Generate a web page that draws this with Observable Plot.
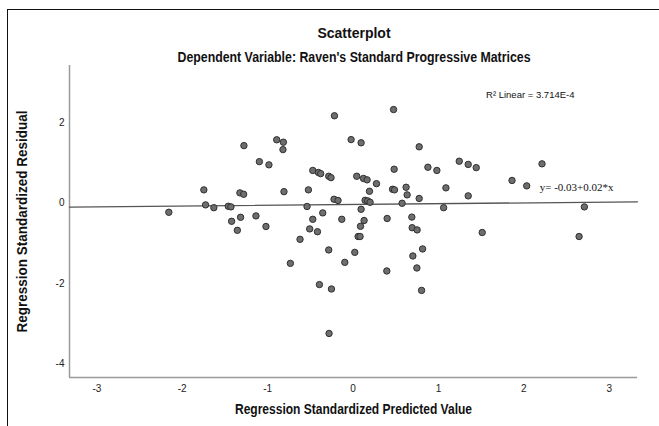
<!DOCTYPE html>
<html>
<head>
<meta charset="utf-8">
<script src="https://cdn.jsdelivr.net/npm/d3@7"></script>
<script src="https://cdn.jsdelivr.net/npm/@observablehq/plot@0.6"></script>
<style>
  html, body { margin: 0; padding: 0; background: #fff; overflow: hidden; }
  #wrap { position: relative; width: 659px; height: 426px; overflow: hidden; font-family: "Liberation Sans", Arial, sans-serif; }
  #border { position: absolute; left: 7px; top: 9px; width: 700px; height: 500px; border-left: 1.5px solid #111; border-top: 1.5px solid #111; }
  #head { position: relative; height: 60px; }
  .t { position: absolute; left: 354px; top: 0; white-space: nowrap; font-weight: bold; font-size: 14px; color: #111; }
  #chart { position: relative; }
</style>
</head>
<body>
<div id="wrap">
  <div id="border"></div>
  <div id="head">
    <div class="t" id="t1" style="top:33px">Scatterplot</div>
    <div class="t" id="t2" style="top:57px">Dependent Variable: Raven's Standard Progressive Matrices</div>
  </div>
  <div id="chart"></div>
</div>
<script>
// ---- data ----
const predicted = [
  0.474, -0.218, -0.894, -0.816, -0.821, -0.023, 0.094, 0.774, -1.278, -1.097,
  -0.985, -0.472, -0.406, -0.379, -0.285, -0.258, 0.481, 0.876, 0.981, 0.043,
  0.122, 0.164, 0.274, -0.809, -0.523, 0.192, 0.462, 0.485, 0.621, 0.633,
  1.087, -0.223, -0.176, 0.141, 0.172, 0.199, 0.774, 0.574, -0.539, 0.094,
  1.060, -1.137, -0.472, -0.355, -0.132, 0.129, 0.399, 0.688, -1.020, -0.508,
  -0.417, 0.087, 0.692, 0.750, 0.059, 0.082, -0.621, -0.285, 0.020, 0.814,
  0.700, -0.734, -0.097, 0.395, 0.747, -0.394, -0.253, 0.802, -0.281, -1.747,
  -1.325, -1.281, -1.727, -1.630, -1.461, -1.430, -2.157, -1.317, -1.422, -1.355,
  1.243, 1.348, 1.442, 2.212, 1.861, 2.033, 1.348, 2.708, 1.512, 2.646
];
const residual = [
  2.34, 2.185, 1.585, 1.525, 1.34, 1.59, 1.51, 1.41, 1.44, 1.04,
  0.96, 0.82, 0.77, 0.74, 0.675, 0.64, 0.85, 0.90, 0.82, 0.675,
  0.62, 0.585, 0.49, 0.29, 0.335, 0.30, 0.35, 0.335, 0.40, 0.21,
  0.385, 0.10, 0.07, 0.075, 0.06, 0.025, 0.12, 0.0, -0.08, -0.15,
  -0.11, -0.315, -0.40, -0.24, -0.40, -0.43, -0.38, -0.345, -0.58, -0.64,
  -0.71, -0.575, -0.61, -0.665, -0.83, -0.83, -0.90, -1.165, -1.225, -1.14,
  -1.315, -1.50, -1.475, -1.69, -1.615, -2.03, -2.14, -2.175, -3.25, 0.335,
  0.26, 0.225, -0.04, -0.11, -0.075, -0.09, -0.225, -0.35, -0.45, -0.675,
  1.05, 0.97, 0.89, 0.985, 0.57, 0.435, 0.185, -0.09, -0.73, -0.83
];
const xTicks = [-3, -2, -1, 0, 1, 2, 3];
const yTicks = [-4, -2, 0, 2];
const xDomain = [-3.32, 3.33];
const yDomain = [-4.35, 3.44];
const fitIntercept = -0.03;
const fitSlope = 0.02;
const r2Label = "R\u00B2 Linear = 3.714E-4";
const eqLabel = "y= -0.03+0.02*x";
const xTitle = "Regression Standardized Predicted Value";
const yTitle = "Regression Standardized Residual";

// ---- derived tables ----
const points = predicted.map((p, i) => ({x: p, y: residual[i]}));
const fitLine = xDomain.map(x => ({x, y: fitIntercept + fitSlope * x}));

const chart = Plot.plot({
  width: 659,
  height: 366,
  marginTop: 5,
  marginBottom: 49,
  marginLeft: 69,
  marginRight: 22,
  style: {fontFamily: "'Liberation Sans', Arial, sans-serif", fontSize: "10px", color: "#222", background: "transparent"},
  x: {domain: xDomain, label: null},
  y: {domain: yDomain, label: null},
  marks: [
    Plot.axisX({ticks: xTicks, tickSize: 0, tickPadding: 7, fontSize: 10, label: null, tickFormat: d => String(d)}),
    Plot.axisY({ticks: yTicks, tickSize: 0, tickPadding: 5, fontSize: 10, label: null, tickFormat: d => String(d)}),
    Plot.ruleX([xDomain[0]], {stroke: "#9a9a9a", strokeWidth: 1.5}),
    Plot.ruleY([yDomain[0]], {stroke: "#9a9a9a", strokeWidth: 1.5}),
    Plot.line(fitLine, {x: "x", y: "y", stroke: "#555", strokeWidth: 1.3}),
    Plot.dot(points, {x: "x", y: "y", r: 3.2, fill: "#6e6e6e", stroke: "#303030", strokeWidth: 1, fillOpacity: 1}),
    Plot.text([r2Label], {frameAnchor: "top-right", textAnchor: "end", dx: -63, dy: 26, fontSize: 9.5, fill: "#111"}),
    Plot.text([eqLabel], {frameAnchor: "right", textAnchor: "end", dx: -24, dy: -34, fontSize: 11, fill: "#111", fontFamily: "'Liberation Serif', 'Times New Roman', serif"}),
    Plot.text([xTitle], {frameAnchor: "bottom", textAnchor: "middle", dy: 36, fontSize: 14, fontWeight: "bold", fill: "#111"}),
    Plot.text([yTitle], {frameAnchor: "left", textAnchor: "middle", lineAnchor: "middle", rotate: -90, dx: -47, fontSize: 14, fontWeight: "bold", fill: "#111"})
  ]
});
document.getElementById("chart").appendChild(chart);

// compress the bold titles horizontally to the reference's widths (keeping their height)
const targets = new Map([[xTitle, 237], [yTitle, 222]]);
chart.querySelectorAll("text").forEach(t => {
  const w = targets.get(t.textContent);
  if (w) { t.setAttribute("textLength", w); t.setAttribute("lengthAdjust", "spacingAndGlyphs"); }
});
function fitDiv(id, w) {
  const el = document.getElementById(id);
  const s = w ? w / el.getBoundingClientRect().width : 1;
  el.style.transform = `translate(-50%, -50%) scaleX(${s})`;
}
fitDiv("t1", 0);
fitDiv("t2", 353);
</script>
</body>
</html>
